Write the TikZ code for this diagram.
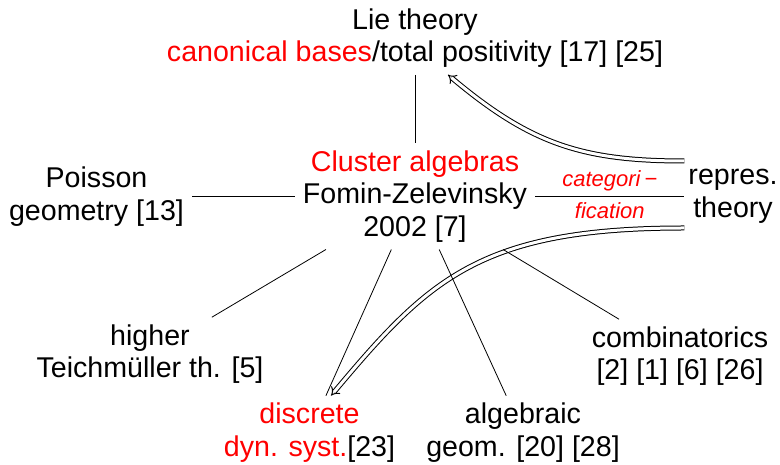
\documentclass[tikz,border=0pt]{standalone}
\usepackage{fontspec}
\setmainfont{Liberation Sans}
\usetikzlibrary{arrows.meta}
\begin{document}
\begin{tikzpicture}[x=1pt,y=1pt,
  box/.style={align=center, inner xsep=8pt, inner ysep=7pt, font=\fontsize{28.6}{32.5}\selectfont},
  lbl/.style={text=red, font=\fontsize{22}{25}\selectfont\itshape, inner ysep=5.5pt},
  conn/.style={line width=0.8pt},
  dbl/.style={double, double distance=3pt, line width=1pt, -{Implies[scale=1.3]}},
]
\useasboundingbox (0,0) rectangle (780,465);
\node[box] (lie) at (415,427) {Lie theory\\ \textcolor{red}{canonical bases}/total positivity [17] [25]};
\node[box] (cluster) at (415,268.5) {\textcolor{red}{Cluster algebras}\\ Fomin-Zelevinsky\\ 2002 [7]};
\node[box] (poisson) at (96.5,268.5) {Poisson\\ geometry [13]};
\node[box, inner xsep=4pt] (repres) at (733,268.5) {repres.\\ theory};
\node[box] (higher) at (150,111) {higher\\ Teichmüller th. [5]};
\node[box] (discrete) at (309.5,32.5) {\textcolor{red}{discrete}\\ \textcolor{red}{dyn. syst.}[23]};
\node[box] (alg) at (523,32.5) {algebraic\\ geom. [20] [28]};
\node[box] (comb) at (680,109) {combinatorics\\{}[2] [1] [6] [26]};

\draw[dbl] ([yshift=35.5pt]repres.west) to[out=180, in=-40, out distance=103pt, in distance=107pt] ([xshift=33pt]lie.south);
\draw[dbl] ([yshift=-31.5pt]repres.west) to[out=180, in=50, out distance=205pt, in distance=151pt] ([xshift=21.5pt]discrete.north);

\draw[conn] (lie) -- (cluster);
\draw[conn] (poisson) -- (cluster);
\draw[conn] (cluster) -- node[lbl, above]{categori\,−} node[lbl, below]{fication} (repres);
\draw[conn] (cluster) -- (higher);
\draw[conn] (cluster) -- (discrete);
\draw[conn] (cluster) -- (alg);
\draw[conn] (cluster) -- (comb);
\end{tikzpicture}
\end{document}
